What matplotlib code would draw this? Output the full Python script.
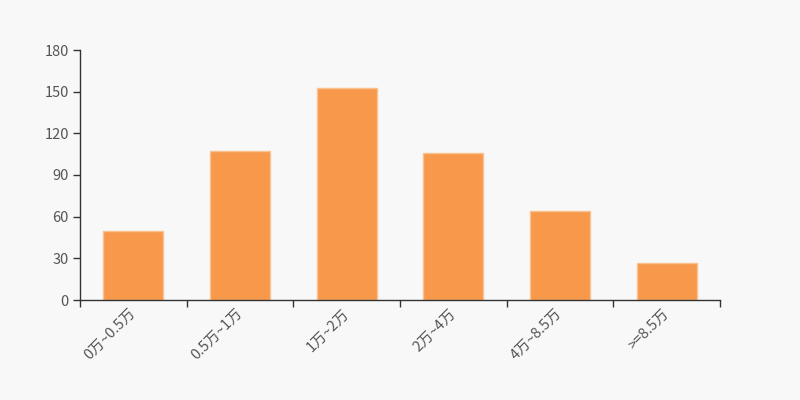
import matplotlib
matplotlib.use("Agg")
import matplotlib.pyplot as plt
import numpy as np

plt.rcParams['font.family'] = ['Noto Sans CJK SC', 'DejaVu Sans']

categories = ["0万~0.5万", "0.5万~1万", "1万~2万", "2万~4万", "4万~8.5万", ">=8.5万"]
values = [50, 107, 153, 106, 64, 27]
yticks = [0, 30, 60, 90, 120, 150, 180]

bg = "#f8f8f8"
axis_color = "#333333"
text_color = "#555555"

fig = plt.figure(figsize=(8, 4), dpi=100, facecolor=bg)
ax = fig.add_axes([0.1, 0.25, 0.8, 0.625], facecolor=bg)

x = np.arange(len(categories))
ax.bar(x, values, width=0.5625, color="#f7984a", edgecolor="#fbc291", linewidth=1)

ax.set_xlim(-0.5, len(categories) - 0.5)
ax.set_ylim(0, 180)
ax.set_yticks(yticks)
ax.set_yticklabels([str(v) for v in yticks], fontsize=10.5, color=text_color)

# ticks sit on the category boundaries, labels in the middle
ax.set_xticks(np.arange(len(categories) + 1) - 0.5)
ax.set_xticklabels([])
ax.set_xticks(x, minor=True)
ax.set_xticklabels(categories, minor=True, rotation=45, ha="right", va="center",
                   rotation_mode="anchor", fontsize=10.5, color=text_color)
ax.tick_params(axis="x", which="minor", length=0, pad=8)
ax.tick_params(axis="x", which="major", length=5, width=1, color=axis_color, direction="out")
ax.tick_params(axis="y", length=5, width=1, color=axis_color, direction="out", pad=3)

for side in ["top", "right"]:
    ax.spines[side].set_visible(False)
for side in ["left", "bottom"]:
    ax.spines[side].set_color(axis_color)
    ax.spines[side].set_linewidth(1)

fig.savefig("out.png", dpi=100, facecolor=bg)
